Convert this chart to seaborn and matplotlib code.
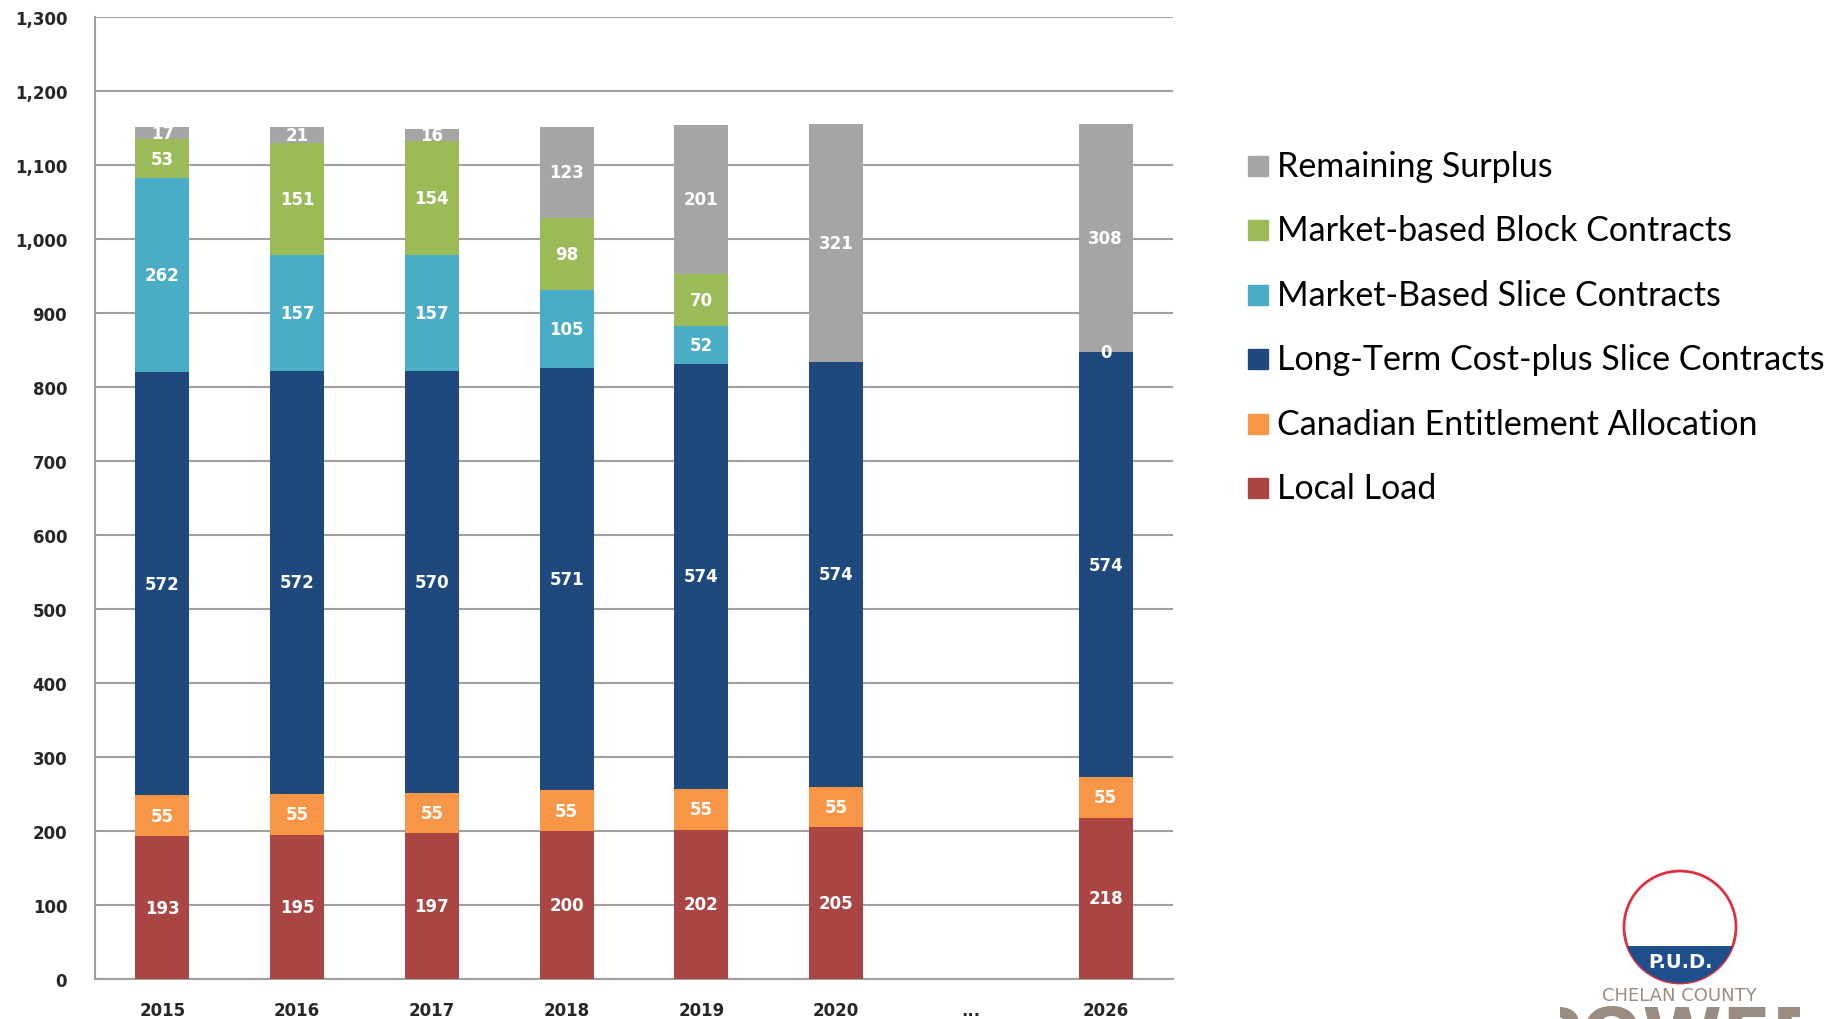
import matplotlib
matplotlib.use("Agg")
import matplotlib.pyplot as plt
import numpy as np
import pandas as pd
import seaborn as sns
from matplotlib.patches import Rectangle, Circle

years = ["2015", "2016", "2017", "2018", "2019", "2020", "...", "2026"]

local_load = [193, 195, 197, 200, 202, 205, np.nan, 218]
canadian = [55, 55, 55, 55, 55, 55, np.nan, 55]
long_term = [572, 572, 570, 571, 574, 574, np.nan, 574]
slice_mkt = [262, 157, 157, 105, 52, np.nan, np.nan, 0]
block_mkt = [53, 151, 154, 98, 70, np.nan, np.nan, np.nan]
surplus = [17, 21, 16, 123, 201, 321, np.nan, 308]

series = [
    ("Local Load", local_load, "#A94543"),
    ("Canadian Entitlement Allocation", canadian, "#F79646"),
    ("Long-Term Cost-plus Slice Contracts", long_term, "#1F497D"),
    ("Market-Based Slice Contracts", slice_mkt, "#4BACC6"),
    ("Market-based Block Contracts", block_mkt, "#9BBB59"),
    ("Remaining Surplus", surplus, "#A5A5A5"),
]

sns.set_style("white")
plt.rcParams["font.family"] = ["DejaVu Sans"]

fig = plt.figure(figsize=(18.35, 10.2), dpi=100)
ax = fig.add_axes([95 / 1835, 1 - 980 / 1020, (1173 - 95) / 1835, (980 - 18) / 1020])

bottom = np.zeros(len(years))
for name, vals, color in series:
    v = np.array(vals, dtype=float)
    h = np.nan_to_num(v)
    sns.barplot(x=years, y=h, bottom=bottom, color=color, width=0.4,
                order=years, ax=ax, linewidth=0, saturation=1, zorder=3)
    for i, val in enumerate(v):
        if np.isnan(val):
            continue
        ax.text(i, bottom[i] + h[i] / 2, f"{int(val)}", ha="center", va="center",
                color="white", fontsize=12, fontweight="bold", zorder=5)
    bottom = bottom + h

ax.set_ylim(0, 1300)
ax.set_xlim(-0.5, len(years) - 0.5)
ax.set_yticks(np.arange(0, 1301, 100))
ax.set_yticklabels([f"{t:,}" for t in range(0, 1301, 100)], fontsize=12, fontweight="bold")
ax.yaxis.grid(True, color="#A0A0A0", linewidth=1.5, zorder=0)
ax.set_axisbelow(True)
for s in ["top", "right"]:
    ax.spines[s].set_visible(False)
ax.spines["left"].set_color("#A0A0A0")
ax.spines["left"].set_linewidth(1.5)
ax.spines["bottom"].set_color("#A0A0A0")
ax.spines["bottom"].set_linewidth(1.5)
ax.tick_params(axis="y", length=8, width=1.5, color="#A0A0A0", pad=12)
ax.set_xticks(np.arange(len(years)))
ax.set_xticklabels(years, fontsize=12, fontweight="bold")
ax.tick_params(axis="x", length=0, pad=16)
ax.set_xticks(np.arange(len(years) + 1) - 0.5, minor=True)
ax.tick_params(axis="x", which="minor", length=8, width=1.5, color="#A0A0A0")
ax.set_xlabel("")
ax.set_ylabel("")

# legend, top entry = top of stack
for k, (name, vals, color) in enumerate(reversed(series)):
    yc = 167 + k * 64.4
    fig.add_artist(Rectangle((1248 / 1835, 1 - (yc + 10) / 1020), 20 / 1835, 20 / 1020,
                             transform=fig.transFigure, color=color))
    fig.text(1277 / 1835, 1 - yc / 1020, name, ha="left", va="center",
             fontsize=24.5, family="Lato", color="black")

# simple logo
lax = fig.add_axes([1560 / 1835, 0, 240 / 1835, 160 / 1020])
lax.set_xlim(1560, 1800)
lax.set_ylim(1020, 860)
lax.set_aspect("equal")
lax.axis("off")
ring = Circle((1680, 928), 56, facecolor="white", edgecolor="#E03040", linewidth=2)
lax.add_patch(ring)
water = Rectangle((1620, 947), 120, 45, facecolor="#1F4E8C", edgecolor="none")
lax.add_patch(water)
water.set_clip_path(ring)
lax.text(1680, 963, "P.U.D.", ha="center", va="center", color="white",
         fontsize=14, fontweight="bold")
lax.text(1679, 996, "CHELAN COUNTY", ha="center", va="center", color="#9A8C80",
         fontsize=13)
lax.text(1678, 1040, "POWER", ha="center", va="center", color="#9A8C80",
         fontsize=52, fontweight="bold", clip_on=True)

fig.savefig("out.png", dpi=100)
